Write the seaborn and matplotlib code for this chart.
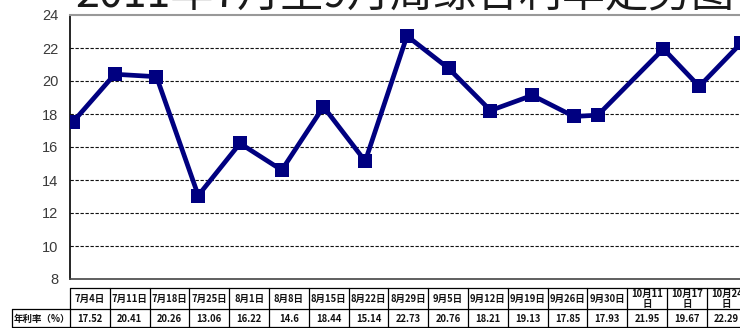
import matplotlib
matplotlib.use("Agg")
import matplotlib.pyplot as plt
import matplotlib.dates as mdates
import seaborn as sns
import pandas as pd

# ---------------- data ----------------
dates = ["2011-07-04", "2011-07-11", "2011-07-18", "2011-07-25", "2011-08-01",
         "2011-08-08", "2011-08-15", "2011-08-22", "2011-08-29", "2011-09-05",
         "2011-09-12", "2011-09-19", "2011-09-26", "2011-09-30", "2011-10-11",
         "2011-10-17", "2011-10-24"]
date_labels = ["7月4日", "7月11日", "7月18日", "7月25日", "8月1日", "8月8日",
               "8月15日", "8月22日", "8月29日", "9月5日", "9月12日", "9月19日",
               "9月26日", "9月30日", "10月11日", "10月17日", "10月24日"]
rates = [17.52, 20.41, 20.26, 13.06, 16.22, 14.6, 18.44, 15.14, 22.73, 20.76,
         18.21, 19.13, 17.85, 17.93, 21.95, 19.67, 22.29]
row_label = "年利率（%）"
title = "2011年7月至9月周综合利率走势图"
yticks = [8, 10, 12, 14, 16, 18, 20, 22, 24]

# ---------------- layout ----------------
W, H = 740, 328
sns.set_style("white")
plt.rcParams["font.family"] = ["Noto Sans CJK SC", "DejaVu Sans"]

fig = plt.figure(figsize=(W / 100, H / 100), dpi=100)
fig.patch.set_facecolor("white")

ax_left, ax_top, ax_bottom, ax_right = 70, 15, 279, 800
ax = fig.add_axes([ax_left / W, 1 - ax_bottom / H,
                   (ax_right - ax_left) / W, (ax_bottom - ax_top) / H])

df = pd.DataFrame({"date": pd.to_datetime(dates), "rate": rates})
sns.lineplot(data=df, x="date", y="rate", ax=ax, color="#000080",
             linewidth=3.4, marker="s", markersize=9.5,
             markeredgewidth=0, markerfacecolor="#000080", zorder=5)

px_per_day = 5.964
d0 = mdates.date2num(pd.Timestamp(dates[0]))
x_start = d0 - 3 / px_per_day
ax.set_xlim(x_start, x_start + (ax_right - ax_left) / px_per_day)
ax.set_ylim(8, 24)
ax.set_yticks(yticks)
ax.set_yticklabels([str(v) for v in yticks], fontfamily="Liberation Sans",
                   fontsize=10.5, color="#3a3a3a")
ax.tick_params(axis="y", length=0, pad=8.5)
ax.set_xticks([])
ax.set_xlabel("")
ax.set_ylabel("")
for v in yticks[1:-1]:
    ax.axhline(v, color="#111111", linewidth=0.8, linestyle=(0, (3, 1.5)), zorder=1)
ax.spines["left"].set_color("#000000")
ax.spines["left"].set_linewidth(1.2)
ax.spines["bottom"].set_color("#444444")
ax.spines["bottom"].set_linewidth(1.2)
ax.spines["top"].set_color("#999999")
ax.spines["top"].set_linewidth(1.5)
ax.spines["right"].set_visible(False)

# ---------------- overlay (title + data table) in pixel coords ----------------
ov = fig.add_axes([0, 0, 1, 1], zorder=10)
ov.set_xlim(0, W)
ov.set_ylim(H, 0)
ov.axis("off")
ov.patch.set_alpha(0)

ov.text(75, 7, title, fontsize=31, fontweight="light", color="#1a1a1a",
        ha="left", va="baseline")

col_w = 39.8
n = len(date_labels)
x_edges = [70 + k * col_w for k in range(n + 1)]
r_top, r_mid, r_bot = 288, 309, 327
lc = "#000000"
lw = 0.9
ov.plot([70, 760], [r_top, r_top], color=lc, lw=lw)
ov.plot([12, 760], [r_mid, r_mid], color=lc, lw=lw)
ov.plot([12, 760], [r_bot, r_bot], color=lc, lw=lw)
ov.plot([12, 12], [r_mid, r_bot], color=lc, lw=lw)
for xe in x_edges:
    ov.plot([xe, xe], [r_top, r_bot], color=lc, lw=lw)


def wrap(lbl):
    return lbl[:-1] + "\n" + lbl[-1] if len(lbl) > 5 and lbl.startswith("10") else lbl


for k, (lbl, val) in enumerate(zip(date_labels, rates)):
    cx = (x_edges[k] + x_edges[k + 1]) / 2
    ov.text(cx, (r_top + r_mid) / 2 + 0.5, wrap(lbl), fontsize=6.8, fontweight="bold",
            ha="center", va="center", linespacing=1.05, color="#111111")
    ov.text(cx, (r_mid + r_bot) / 2 + 0.5, f"{val:g}", fontsize=6.8, fontweight="bold",
            ha="center", va="center", color="#111111")
ov.text(14, (r_mid + r_bot) / 2 + 0.5, row_label, fontsize=6.8, fontweight="bold",
        ha="left", va="center", color="#111111")

fig.savefig("out.png", dpi=100)
